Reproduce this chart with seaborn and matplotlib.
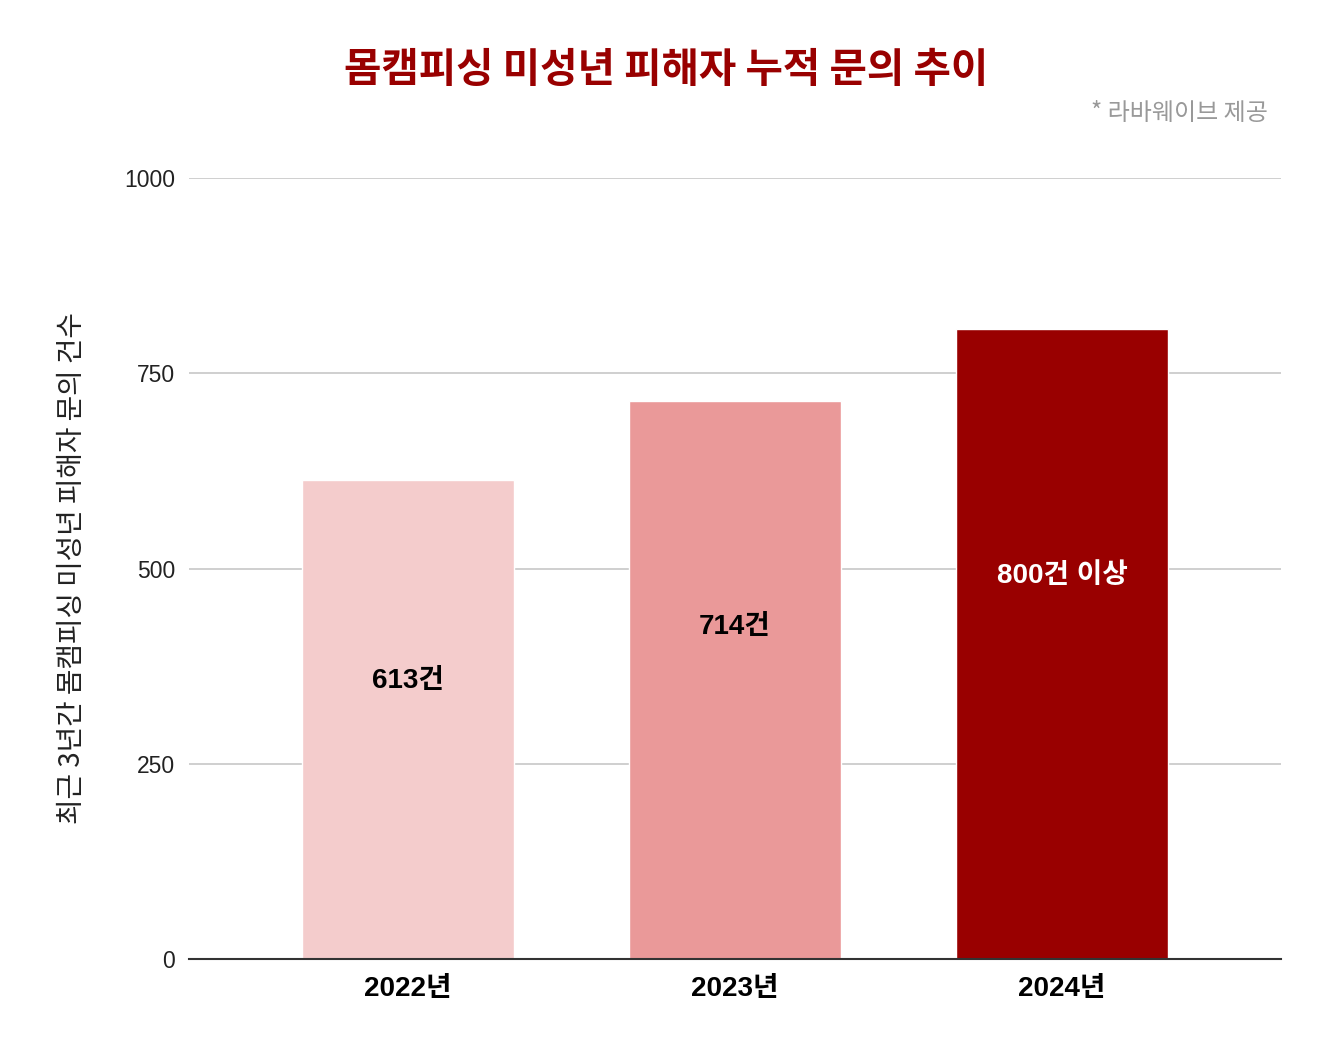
import matplotlib
matplotlib.use("Agg")
import matplotlib.pyplot as plt
import seaborn as sns
import pandas as pd

categories = ["2022년", "2023년", "2024년"]
values = [613, 714, 807]
bar_labels = ["613건", "714건", "800건 이상"]
bar_colors = ["#F4CCCC", "#EA9999", "#990000"]
label_colors = ["#000000", "#000000", "#FFFFFF"]
yticks = [0, 250, 500, 750, 1000]

title = "몸캠피싱 미성년 피해자 누적 문의 추이"
source = "* 라바웨이브 제공"
ylabel = "최근 3년간 몸캠피싱 미성년 피해자 문의 건수"

sns.set_theme(style="white")
fam = ["Liberation Sans", "Noto Sans CJK KR", "DejaVu Sans"]
plt.rcParams["font.family"] = fam

df = pd.DataFrame({"year": categories, "count": values})

fig = plt.figure(figsize=(13.34, 10.54), dpi=100)
ax = fig.add_axes([189 / 1334, 1 - 959 / 1054, (1281 - 189) / 1334, (959 - 178) / 1054])

sns.barplot(data=df, x="year", y="count", hue="year", palette=bar_colors,
            width=0.65, saturation=1, legend=False, ax=ax, zorder=3)

ax.set_xlim(-0.67, 2.67)
ax.set_ylim(0, 1000)
ax.set_yticks(yticks)
ax.set_yticklabels([str(t) for t in yticks], fontsize=16.5, color="#222222")
ax.tick_params(axis="y", length=0, pad=10)
ax.tick_params(axis="x", length=0, pad=12)
for lbl in ax.get_xticklabels():
    lbl.set_fontsize(20)
    lbl.set_fontweight("bold")
    lbl.set_color("#000000")
    lbl.set_family(["Liberation Sans", "Noto Sans CJK KR"])

ax.grid(axis="y", color="#CCCCCC", linewidth=1.3, zorder=0)
ax.set_axisbelow(True)
for s in ["top", "right", "left"]:
    ax.spines[s].set_visible(False)
ax.spines["bottom"].set_color("#333333")
ax.spines["bottom"].set_linewidth(1.5)
ax.spines["bottom"].set_zorder(5)

ax.set_xlabel("")
ax.set_ylabel(ylabel, fontsize=20, color="#222222", labelpad=27,
              family=["Noto Sans CJK KR", "DejaVu Sans"])

for i, (v, t, c) in enumerate(zip(values, bar_labels, label_colors)):
    ax.text(i, 0.69 * v - 67, t, ha="center", va="center", fontsize=20,
            fontweight="bold", color=c, zorder=6,
            family=["Liberation Sans", "Noto Sans CJK KR"])

fig.text(666 / 1334, 1 - 70 / 1054, title, ha="center", va="center",
         fontsize=29.3, fontweight="bold", color="#990000",
         family=["Noto Sans CJK KR", "DejaVu Sans"])
fig.text(1268 / 1334, 1 - 113 / 1054, source, ha="right", va="center",
         fontsize=17.3, color="#999999",
         family=["Noto Sans CJK KR", "DejaVu Sans"])

fig.savefig("out.png", dpi=100, facecolor="white")
